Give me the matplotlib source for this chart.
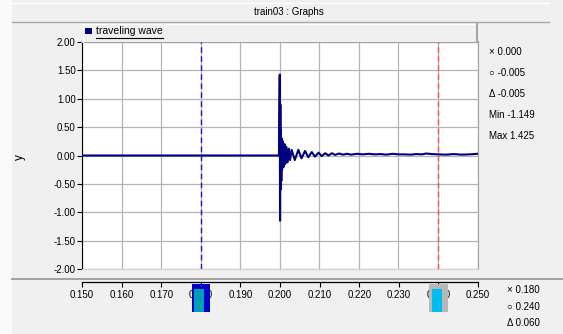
import matplotlib
matplotlib.use("Agg")
import matplotlib.pyplot as plt
import matplotlib.transforms as mtransforms
from matplotlib.patches import Rectangle
from matplotlib.lines import Line2D

# --- data ---
wave_t = [0.1500, 0.1998, 0.2000, 0.20008, 0.20015, 0.20022, 0.2003, 0.2004,
          0.2005, 0.2006, 0.2008, 0.2010, 0.2012, 0.2014, 0.2017, 0.2020,
          0.2023, 0.2026, 0.2030, 0.2038, 0.2047, 0.2055, 0.2064, 0.2072,
          0.2081, 0.2089, 0.2098, 0.2106, 0.2115, 0.2123, 0.2132, 0.2140,
          0.2150, 0.2160, 0.2170, 0.2180, 0.2195, 0.2210, 0.2225, 0.2240,
          0.2255, 0.2270, 0.2285, 0.2300, 0.2315, 0.2330, 0.2345, 0.2360,
          0.2370, 0.2385, 0.2400, 0.2420, 0.2440, 0.2460, 0.2480, 0.2500]
wave_y = [0.000, 0.000, 1.425, -1.149, 0.900, -0.600, 0.450, -0.450,
          0.300, -0.250, 0.250, -0.200, 0.200, -0.150, 0.150, -0.120,
          0.120, -0.080, 0.100, -0.080, 0.100, -0.050, 0.080, -0.030,
          0.060, -0.020, 0.050, -0.010, 0.040, 0.000, 0.040, 0.010,
          0.035, 0.015, 0.030, 0.015, 0.030, 0.020, 0.030, 0.020,
          0.025, 0.015, 0.030, 0.020, 0.020, 0.015, 0.025, 0.020,
          0.035, 0.025, 0.020, 0.015, 0.025, 0.015, 0.020, 0.030]

cursor_x = [0.180, 0.240]
series_name = "traveling wave"
title = "train03 : Graphs"
y_ticks = [2.0, 1.5, 1.0, 0.5, 0.0, -0.5, -1.0, -1.5, -2.0]
x_ticks = [0.150, 0.160, 0.170, 0.180, 0.190, 0.200, 0.210, 0.220, 0.230, 0.240, 0.250]
stats_right = ["\u00d7 0.000", "\u25cb -0.005", "\u0394 -0.005", "Min -1.149", "Max 1.425"]
stats_bottom = ["\u00d7 0.180", "\u25cb 0.240", "\u0394 0.060"]

W, H = 563, 334
FONT = ["Liberation Sans", "DejaVu Sans"]
plt.rcParams["font.family"] = FONT
plt.rcParams["font.size"] = 7


def fx(px):
    return px / W


def fy(px):
    return 1 - px / H


fig = plt.figure(figsize=(W / 100, H / 100), dpi=100, facecolor="#f0f0f0")

# window frame bits
fig.patches.append(Rectangle((0, 0), fx(12), 1, transform=fig.transFigure,
                             facecolor="#fafafa", edgecolor="none", zorder=0))
fig.lines.append(Line2D([fx(12), fx(549)], [fy(22), fy(22)], transform=fig.transFigure,
                        color="#a8a8a8", lw=1))
fig.lines.append(Line2D([fx(12), fx(549)], [fy(2.5), fy(2.5)], transform=fig.transFigure,
                        color="white", lw=1))
fig.lines.append(Line2D([fx(12), 1], [fy(279), fy(279)], transform=fig.transFigure,
                        color="#a0a0a0", lw=1.4))
fig.text(fx(289), fy(12), title, ha="center", va="center", fontsize=7)

# main plot
ax = fig.add_axes([fx(82), fy(269), fx(477.5) - fx(82), fy(42) - fy(269)])
ax.set_facecolor("white")
ax.plot(wave_t, wave_y, color="#000080", lw=1.5, zorder=3)
for cx, col in zip(cursor_x, ["#1a1acc", "#ff5050"]):
    ax.axvline(cx, color=col, lw=1, dashes=(4, 2.5), zorder=4)
ax.set_xlim(0.150, 0.250)
ax.set_ylim(-2.0, 2.0)
ax.set_xticks(x_ticks)
ax.set_yticks(y_ticks)
ax.set_yticklabels([f"{v:.2f}" for v in y_ticks])
ax.tick_params(axis="x", bottom=False, labelbottom=False)
ax.tick_params(axis="y", direction="out", length=3.6, width=0.8, pad=1, labelsize=7)
ax.grid(True, color="#b4b4b4", lw=0.9)
ax.set_axisbelow(True)
ax.spines["left"].set_color("black")
ax.spines["top"].set_color("#a0a0a0")
ax.spines["top"].set_linewidth(1.5)
ax.spines["right"].set_color("#a0a0a0")
ax.spines["bottom"].set_color("#d0d0d0")
fig.text(fx(20), fy(157), "y", rotation=90, ha="center", va="center", fontsize=8.5)

# legend bar
fig.patches.append(Rectangle((fx(82), fy(42)), fx(477) - fx(82), fy(24) - fy(42),
                             transform=fig.transFigure, facecolor="#f0f0f0",
                             edgecolor="none", zorder=1))
fig.lines.append(Line2D([fx(82), fx(477)], [fy(24), fy(24)], transform=fig.transFigure,
                        color="white", lw=1))
fig.lines.append(Line2D([fx(82.5), fx(82.5)], [fy(24), fy(42)], transform=fig.transFigure,
                        color="white", lw=1))
fig.lines.append(Line2D([fx(477), fx(477)], [fy(24), fy(42)], transform=fig.transFigure,
                        color="#a0a0a0", lw=1.4))
fig.patches.append(Rectangle((fx(85), fy(34)), fx(7), fy(28) - fy(34),
                             transform=fig.transFigure, facecolor="#000080",
                             edgecolor="none", zorder=2))
leg_txt = fig.text(fx(96), fy(31.5), series_name, ha="left", va="center", fontsize=7.5)
fig.canvas.draw()
bb = leg_txt.get_window_extent()
fig.lines.append(Line2D([fx(96), bb.x1 / W], [fy(38), fy(38)], transform=fig.transFigure,
                        color="black", lw=0.8))

# right-side readouts
for i, s in enumerate(stats_right):
    fig.text(fx(489), fy(52 + 21 * i), s, ha="left", va="center", fontsize=7)
for i, s in enumerate(stats_bottom):
    fig.text(fx(507), fy(290 + 16.5 * i), s, ha="left", va="center", fontsize=7)

# separate x axis strip
ax2 = fig.add_axes([fx(82), fy(286.5), fx(478) - fx(82), fy(281.5) - fy(286.5)])
ax2.set_facecolor("none")
ax2.set_xlim(0.150, 0.250)
ax2.set_xticks(x_ticks)
ax2.set_xticklabels([f"{v:.3f}" for v in x_ticks])
ax2.set_yticks([])
for side in ["left", "right", "bottom"]:
    ax2.spines[side].set_visible(False)
ax2.spines["top"].set_color("black")
ax2.spines["top"].set_linewidth(0.9)
ax2.tick_params(axis="x", direction="in", length=3.6, width=0.8, pad=2.5, labelsize=7)

# cursor handles on the x strip
blend = mtransforms.blended_transform_factory(ax2.transData, fig.transFigure)
hw = 0.0023
handle_styles = [("#0000c8", "#00a0b4"), ("#b8b8b8", "#00bcf0")]
for cx, (outer, inner) in zip(cursor_x, handle_styles):
    ax2.add_patch(Rectangle((cx - hw, fy(312)), 2 * hw, fy(284) - fy(312),
                            transform=blend, facecolor=outer, edgecolor="none",
                            clip_on=False, zorder=5))
    ax2.add_patch(Rectangle((cx - hw + 0.0007, fy(312)), 0.0025, fy(289) - fy(312),
                            transform=blend, facecolor=inner, edgecolor="none",
                            clip_on=False, zorder=6))

fig.savefig("out.png", dpi=100, facecolor=fig.get_facecolor())
